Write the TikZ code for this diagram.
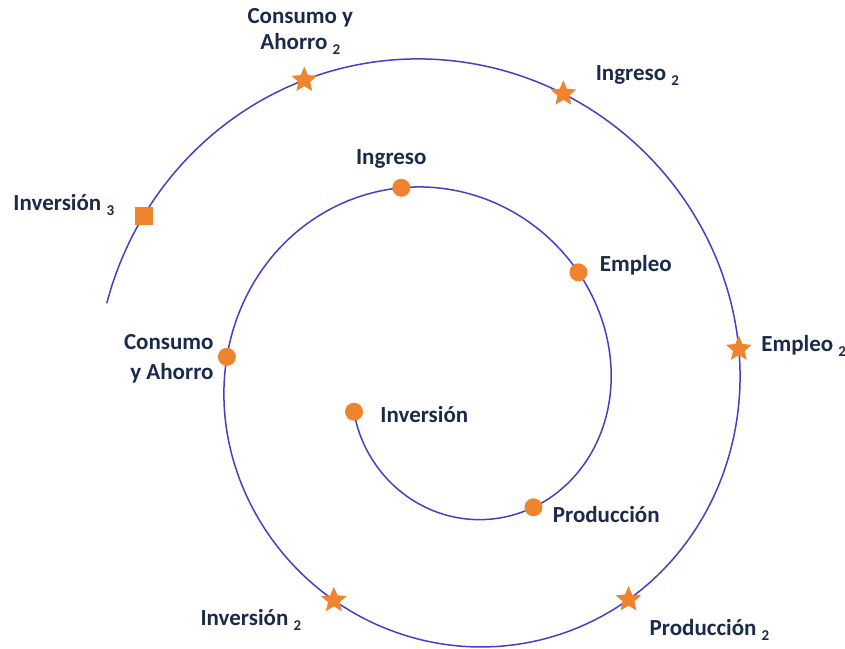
\documentclass[tikz,border=0pt]{standalone}
\usepackage{fontspec}
\setmainfont{Carlito}
\usepackage{tikz}
\usetikzlibrary{shapes.geometric}
\usetikzlibrary{positioning}
\usetikzlibrary{backgrounds}
\definecolor{spiralblue}{RGB}{72,62,196}
\definecolor{markorange}{RGB}{240,132,46}
\definecolor{textnavy}{RGB}{28,42,74}
\newcommand{\lowidx}[1]{\raisebox{-5pt}{\fontsize{15}{15}\selectfont #1}}
\tikzstyle{spiral} = [spiralblue, line width=1.5pt]
\tikzstyle{dot} = [circle, fill=markorange, inner sep=0pt, minimum size=18pt]
\tikzstyle{starmark} = [star, star points=5, star point ratio=2.2, fill=markorange, inner sep=0pt, minimum size=27pt]
\tikzstyle{squaremark} = [rectangle, fill=markorange, inner sep=0pt, minimum size=18pt]
\tikzstyle{lbl} = [text=textnavy, font=\fontsize{23}{28}\selectfont\bfseries, inner sep=0pt]

\begin{document}
\begin{tikzpicture}[x=1pt, y=1pt, declare function={sr(\t) = 162.25 + 0.3583*\t - 6*cos(2*(\t - 40));}]
	\useasboundingbox (0,0) rectangle (845,648);

	\begin{scope}[shift={(449.75,263)}]
		% First turn
		\node[dot] (inv) at (-164.4:{sr(-164.4)}) {};
		\node[dot] (prod) at (-55.6:{sr(-55.6)}) {};
		\node[dot] (emp) at (41.2:{sr(41.2)}) {};
		\node[dot] (ing) at (103.8:{sr(103.8)}) {};
		\node[dot] (cons) at (172.8:{sr(172.8)}) {};

		% Second turn
		\node[starmark] (inv2) at (241.7:{sr(241.7)}) {};
		\node[starmark] (prod2) at (309.8:{sr(309.8)}) {};
		\node[starmark] (emp2) at (367.1:{sr(367.1)}) {};
		\node[starmark] (ing2) at (428.7:{sr(428.7)}) {};
		\node[starmark] (cons2) at (475.5:{sr(475.5)}) {};
		\node[squaremark] (inv3) at (511.1:{sr(511.1)}) {};

		% Spiral
		\begin{scope}[on background layer]
			\draw[spiral] plot[domain=-164.4:526.6, samples=240, smooth, variable=\t] (\t:{sr(\t)});
		\end{scope}
	\end{scope}

	% Labels
	\node[lbl, right = 17pt of inv, yshift = -3pt] (invt) {Inversión};
	\node[lbl, right = 10pt of prod, yshift = -7pt] (prodt) {Producción};
	\node[lbl, right = 12pt of emp, yshift = 7pt] (empt) {Empleo};
	\node[lbl, above = 10pt of ing, xshift = -10pt] (ingt) {Ingreso};
	\node[lbl, left = 4pt of cons, yshift = -2pt, align = right] (const) {Consumo\\[2pt]y Ahorro};
	\node[lbl, below = 3pt of inv2, xshift = -83pt] (inv2t) {Inversión \lowidx{2}};
	\node[lbl, below = 13pt of prod2, xshift = 81pt] (prod2t) {Producción \lowidx{2}};
	\node[lbl, right = 14pt of emp2, yshift = 3pt] (emp2t) {Empleo \lowidx{2}};
	\node[lbl, right = 24pt of ing2, yshift = 18pt] (ing2t) {Ingreso \lowidx{2}};
	\node[lbl, above = 11pt of cons2, xshift = -4pt, align = center] (cons2t) {Consumo y\\[-2pt]Ahorro \lowidx{2}};
	\node[lbl, left = 20pt of inv3, yshift = 11pt] (inv3t) {Inversión \lowidx{3}};

\end{tikzpicture}
\end{document}
